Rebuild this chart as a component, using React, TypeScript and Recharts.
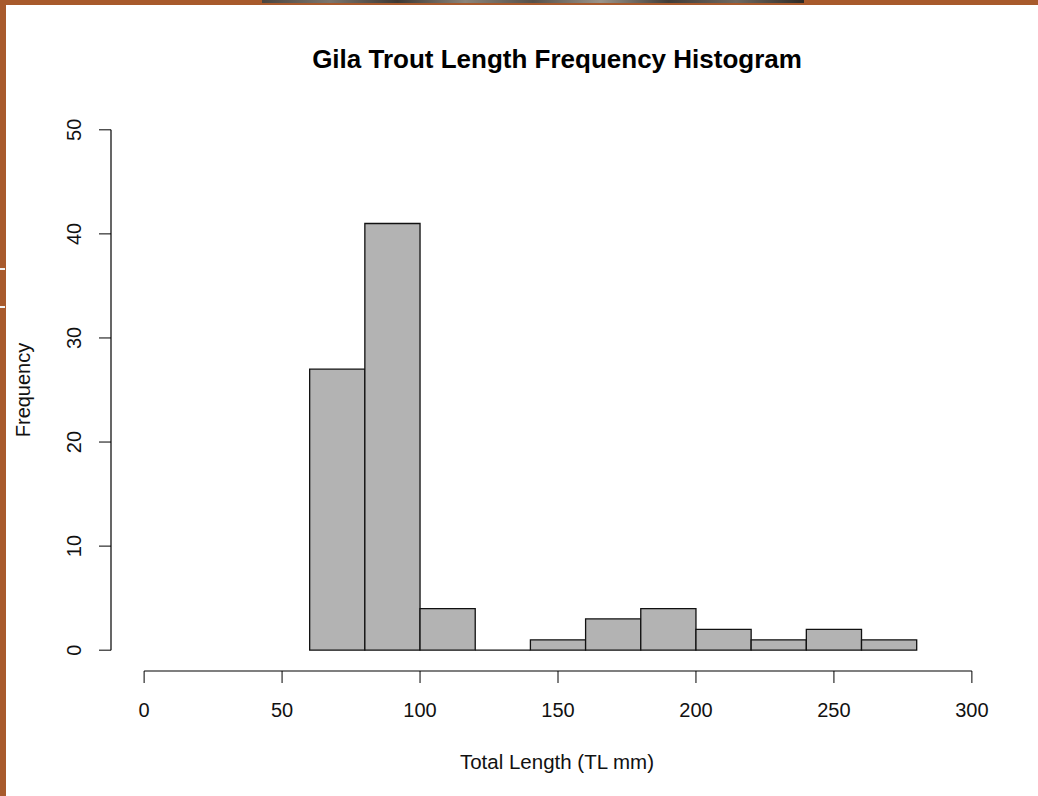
import { ComposedChart, XAxis, YAxis, ReferenceArea, ReferenceLine } from "recharts";

// histogram bins (Total Length, mm) and counts
const binStarts = [60, 80, 100, 120, 140, 160, 180, 200, 220, 240, 260];
const binWidth = 20;
const counts = [27, 41, 4, 0, 1, 3, 4, 2, 1, 2, 1];

const xTicks = [0, 50, 100, 150, 200, 250, 300];
const yTicks = [0, 10, 20, 30, 40, 50];

const title = "Gila Trout Length Frequency Histogram";
const xTitle = "Total Length (TL mm)";
const yTitle = "Frequency";

const bins = binStarts.map((s, i) => ({ start: s, end: s + binWidth, count: counts[i] }));

const font = "'Liberation Sans', Arial, sans-serif";
const brown = "#a85a2c";

const YTick = (props: any) => {
  const { x, y, payload } = props;
  const tx = x - 18;
  return (
    <text
      x={tx}
      y={y}
      transform={`rotate(-90, ${tx}, ${y})`}
      textAnchor="middle"
      fontSize={20}
      fontFamily={font}
      fill="#111"
    >
      {payload.value}
    </text>
  );
};

export default function App() {
  return (
    <div style={{ position: "absolute", left: 0, top: 0, width: 1038, height: 796, background: "#fff", overflow: "hidden" }}>
      {/* frame */}
      <div style={{ position: "absolute", left: 0, top: 0, width: 1038, height: 5, background: brown }} />
      <div style={{ position: "absolute", left: 0, top: 0, width: 6, height: 796, background: brown }} />
      <div
        style={{
          position: "absolute",
          left: 262,
          top: 0,
          width: 542,
          height: 3,
          background: "linear-gradient(90deg, #4a4540, #7a756d, #3c3834, #8a847a, #55504a, #9a948a, #403c38, #6e6860, #2e2a26)",
        }}
      />
      <div style={{ position: "absolute", left: 0, top: 268, width: 5, height: 2, background: "#f2f2f2" }} />
      <div style={{ position: "absolute", left: 0, top: 306, width: 5, height: 2, background: "#f2f2f2" }} />

      <div style={{ position: "absolute", left: 0, top: 0 }}>
        <ComposedChart width={1038} height={796} data={bins} margin={{ top: 109, right: 33, left: 51, bottom: 65 }}>
          <XAxis
            type="number"
            dataKey="start"
            domain={[-12, 312]}
            ticks={xTicks}
            allowDataOverflow
            height={60}
            axisLine={false}
            tickLine={{ stroke: "#000" }}
            tickSize={12}
            tickMargin={20}
            tick={{ fontSize: 20, fontFamily: font, fill: "#111" }}
          />
          <YAxis
            type="number"
            domain={[-2, 52]}
            ticks={yTicks}
            allowDataOverflow
            width={60}
            axisLine={false}
            tickLine={{ stroke: "#000" }}
            tickSize={12}
            tickMargin={0}
            tick={<YTick />}
          />
          <ReferenceLine
            segment={[{ x: xTicks[0], y: -2 }, { x: xTicks[xTicks.length - 1], y: -2 }]}
            stroke="#000"
            strokeWidth={1.2}
            ifOverflow="visible"
          />
          <ReferenceLine
            segment={[{ x: -12, y: yTicks[0] }, { x: -12, y: yTicks[yTicks.length - 1] }]}
            stroke="#000"
            strokeWidth={1.2}
            ifOverflow="visible"
          />
          {bins.map((b) =>
            b.count > 0 ? (
              <ReferenceArea
                key={b.start}
                x1={b.start}
                x2={b.end}
                y1={0}
                y2={b.count}
                fill="#b3b3b3"
                fillOpacity={1}
                stroke="#111"
                strokeWidth={1.3}
                ifOverflow="visible"
              />
            ) : (
              <ReferenceLine
                key={b.start}
                segment={[{ x: b.start, y: 0 }, { x: b.end, y: 0 }]}
                stroke="#111"
                strokeWidth={1.3}
              />
            )
          )}
        </ComposedChart>
      </div>

      <svg width={1038} height={796} style={{ position: "absolute", left: 0, top: 0, pointerEvents: "none" }}>
        <text x={557} y={68} textAnchor="middle" fontSize={26} fontWeight="bold" fontFamily={font} fill="#000">
          {title}
        </text>
        <text x={557} y={769} textAnchor="middle" fontSize={20.5} fontFamily={font} fill="#111">
          {xTitle}
        </text>
        <text x={30} y={390} transform="rotate(-90, 30, 390)" textAnchor="middle" fontSize={20} fontFamily={font} fill="#111">
          {yTitle}
        </text>
      </svg>
    </div>
  );
}
